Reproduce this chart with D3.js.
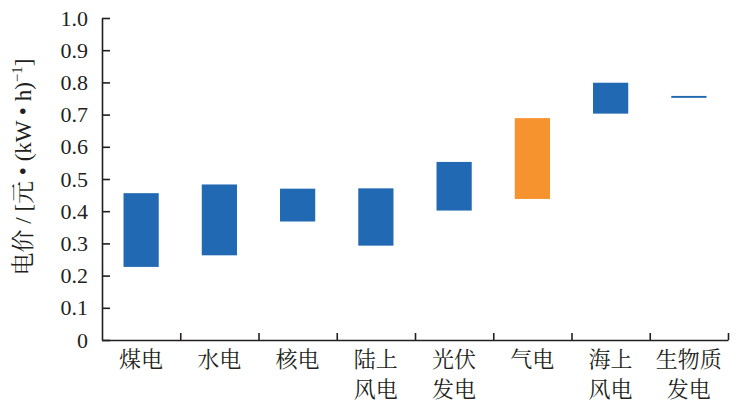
<!DOCTYPE html>
<html>
<head>
<meta charset="utf-8">
<script src="https://cdn.jsdelivr.net/npm/d3@7/dist/d3.min.js"></script>
<style>
  html, body { margin: 0; padding: 0; background: #fff; }
  svg { display: block; }
</style>
</head>
<body>
<svg id="chart" width="741" height="411"></svg>
<script>
// ---- data ----
const categories = ["煤电", "水电", "核电", "陆上风电", "光伏发电", "气电", "海上风电", "生物质发电"];
const labelLines = [["煤电"], ["水电"], ["核电"], ["陆上", "风电"], ["光伏", "发电"], ["气电"], ["海上", "风电"], ["生物质", "发电"]];
const lowValues  = [0.227, 0.263, 0.368, 0.293, 0.402, 0.438, 0.703, 0.752];
const highValues = [0.456, 0.483, 0.470, 0.471, 0.553, 0.689, 0.799, 0.758];
const barColors  = ["#2169b3", "#2169b3", "#2169b3", "#2169b3", "#2169b3", "#f7932f", "#2169b3", "#2169b3"];
const yTicks = [0, 0.1, 0.2, 0.3, 0.4, 0.5, 0.6, 0.7, 0.8, 0.9, 1.0];

// ---- layout ----
const svg = d3.select("#chart");
const plotLeft = 102, plotRight = 728, plotTop = 18, plotBottom = 340;
const axisColor = "#231f20";
const SERIF = "Liberation Serif";
const CJK = "Noto Serif CJK SC";

const x = d3.scaleBand().domain(categories).range([plotLeft, plotRight]).paddingInner(0.55).paddingOuter(0.275);
const y = d3.scaleLinear().domain([0, 1]).range([plotBottom, plotTop]);
const xEdge = d3.scaleLinear().domain([0, categories.length]).range([plotLeft, plotRight]);

// bars
svg.append("g").selectAll("rect").data(categories).join("rect")
  .attr("x", d => x(d))
  .attr("width", x.bandwidth())
  .attr("y", (d, i) => y(highValues[i]))
  .attr("height", (d, i) => y(lowValues[i]) - y(highValues[i]))
  .attr("fill", (d, i) => barColors[i]);

// y axis
const yAxis = svg.append("g").attr("transform", `translate(${plotLeft},0)`)
  .call(d3.axisLeft(y).tickValues(yTicks).tickSizeInner(-8).tickSizeOuter(0).tickPadding(14)
    .tickFormat(d => d === 0 ? "0" : d3.format(".1f")(d)))
  .attr("font-family", SERIF)
  .attr("font-size", 22);
yAxis.select(".domain").attr("stroke", axisColor).attr("stroke-width", 1.6);
yAxis.selectAll(".tick line").attr("stroke", axisColor).attr("stroke-width", 1.6);
yAxis.selectAll(".tick text").attr("fill", "#231f20");

// x axis (ticks at category boundaries)
const xAxis = svg.append("g").attr("transform", `translate(0,${plotBottom})`)
  .call(d3.axisBottom(xEdge).tickValues(d3.range(1, categories.length + 1)).tickSizeInner(-7).tickSizeOuter(0).tickFormat(""));
xAxis.select(".domain").attr("stroke", axisColor).attr("stroke-width", 1.6);
xAxis.selectAll(".tick line").attr("stroke", axisColor).attr("stroke-width", 1.6);

// category labels
const lab = svg.append("g").selectAll("text").data(categories).join("text")
  .attr("x", d => x(d) + x.bandwidth() / 2)
  .attr("y", 367)
  .attr("text-anchor", "middle")
  .attr("font-family", CJK)
  .attr("font-size", 22)
  .attr("fill", "#231f20");
lab.each(function(d, i) {
  const t = d3.select(this);
  labelLines[i].forEach((line, j) => {
    t.append("tspan").attr("x", x(d) + x.bandwidth() / 2).attr("dy", j === 0 ? 0 : 30).text(line);
  });
});

// y axis title
const title = svg.append("text")
  .attr("transform", "translate(31,167) rotate(-90)")
  .attr("text-anchor", "middle")
  .attr("font-family", SERIF)
  .attr("font-size", 23)
  .attr("fill", "#231f20");
title.append("tspan").attr("font-family", CJK).text("电价");
title.append("tspan").text(" / [");
title.append("tspan").attr("font-family", CJK).text("元");
title.append("tspan").text(" • (kW • h)");
title.append("tspan").attr("font-size", 15).attr("dy", -9).text("−1");
title.append("tspan").attr("dy", 9).text("]");
</script>
</body>
</html>
